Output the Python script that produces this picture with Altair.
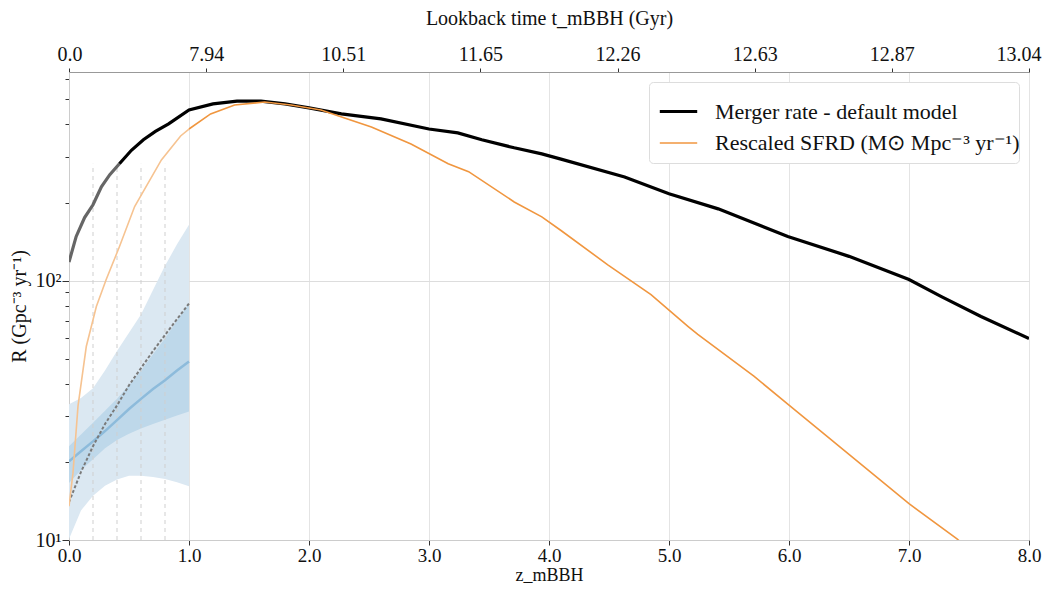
import json
import altair as alt
import pandas as pd

# ---------------- data ----------------
MERGER = "Merger rate - default model"
SFRD = "Rescaled SFRD (M⊙ Mpc⁻³ yr⁻¹)"

merger_z = [0.0, 0.06, 0.13, 0.2, 0.27, 0.34, 0.42, 0.52, 0.62, 0.72, 0.83, 1.0, 1.2, 1.4,
            1.6, 1.8, 2.0, 2.27, 2.6, 3.0, 3.24, 3.44, 3.71, 3.94, 4.1, 4.63, 5.0, 5.41,
            5.99, 6.5, 7.0, 7.27, 7.6, 8.0]
merger_R = [118, 148, 175, 196, 230, 256, 282, 318, 349, 376, 402, 455, 480, 492,
            492, 480, 463, 439, 420, 384, 371, 349, 325, 308, 294, 251, 216, 189,
            148, 124, 101, 86.8, 72.7, 59.8]
merger_split_z = 0.42   # the curve is drawn grey below this redshift

sfrd_z = [0.0, 0.033, 0.075, 0.144, 0.228, 0.31, 0.42, 0.547, 0.77, 0.93, 1.0, 1.18,
          1.38, 1.63, 1.85, 2.1, 2.29, 2.52, 2.85, 3.16, 3.33, 3.71, 3.94, 4.1, 4.49,
          4.85, 5.16, 5.24, 5.71, 6.0, 7.0, 7.4, 7.5]
sfrd_R = [13.5, 18.1, 32.8, 55.7, 79.4, 101, 135, 193, 292, 361, 384, 439,
          475, 488, 475, 455, 424, 391, 336, 282, 263, 201, 176, 156, 115,
          88.3, 66.5, 62.0, 42.7, 33.1, 13.8, 10.1, 9.2]
sfrd_split_z = 1.0      # the curve is drawn lighter below this redshift

band_z = [0.0, 0.1, 0.2, 0.3, 0.4, 0.5, 0.6, 0.7, 0.8, 0.9, 1.0]
outer_lo = [10.1, 13.0, 14.8, 16.2, 17.1, 17.7, 17.7, 17.5, 17.2, 16.7, 16.1]
outer_hi = [33.4, 35.3, 38.5, 45.0, 53.5, 63.0, 74.0, 92.0, 114, 138, 164]
inner_lo = [16.6, 18.6, 20.5, 22.6, 24.3, 25.7, 26.9, 28.0, 29.1, 30.2, 31.3]
inner_hi = [23.0, 25.5, 28.3, 31.5, 35.0, 39.5, 45.0, 52.0, 60.0, 70.0, 81.6]
median_R = [20.1, 22.0, 24.0, 26.3, 29.0, 32.0, 35.0, 38.2, 41.3, 45.0, 48.8]
alt_model_R = [14.0, 18.3, 23.0, 28.0, 33.0, 39.5, 46.0, 53.5, 61.7, 71.0, 81.6]

guide_z = [0.2, 0.4, 0.6, 0.8]
guide_lo = [10, 10, 10, 10]
guide_hi = [282, 282, 282, 282]

bottom_ticks = [0, 1, 2, 3, 4, 5, 6, 7, 8]
y_ticks = [10, 20, 30, 40, 50, 60, 70, 80, 90, 100, 200, 300, 400, 500, 600]
lookback_labels = ["0.0", "7.94", "10.51", "11.65", "12.26", "12.63", "12.87", "13.04"]
top_ticks = [i * 8 / 7 for i in range(len(lookback_labels))]

# ---------------- tables ----------------
merger_df = pd.DataFrame({"z": merger_z, "R": merger_R})
sfrd_df = pd.DataFrame({"z": sfrd_z, "R": sfrd_R})
main_df = pd.concat([
    merger_df[merger_df.z >= merger_split_z].assign(series=MERGER),
    sfrd_df[sfrd_df.z >= sfrd_split_z].assign(series=SFRD),
])
merger_low = merger_df[merger_df.z <= merger_split_z]
sfrd_low = sfrd_df[sfrd_df.z <= sfrd_split_z]
band_df = pd.DataFrame({"z": band_z, "olo": outer_lo, "ohi": outer_hi,
                        "ilo": inner_lo, "ihi": inner_hi, "R": median_R})
alt_df = pd.DataFrame({"z": band_z, "R": alt_model_R})
guide_df = pd.DataFrame({"z": guide_z, "R": guide_lo, "R2": guide_hi})

# ---------------- styling ----------------
SERIF = "Liberation Serif"
xs = alt.Scale(domain=[0, 8], nice=False, zero=False)
ys = alt.Scale(type="log", domain=[10, 637], nice=False)

x_axis = alt.Axis(orient="bottom", values=bottom_ticks, format=".1f", title="z_mBBH",
                  grid=True, gridColor="#e4e4e4", domainColor="#cccccc",
                  tickColor="#333333", tickSize=5, labelPadding=1, titlePadding=1,
                  labelFontSize=19, titleFontSize=18, labelFlush=False)
y_axis = alt.Axis(values=y_ticks, title="R (Gpc⁻³ yr⁻¹)",
                  labelExpr="datum.value == 10 ? '10¹' : (datum.value == 100 ? '10²' : '')",
                  grid=True, gridColor="#dddddd",
                  gridOpacity={"condition": {"test": "datum.value === 100", "value": 1}, "value": 0},
                  tickSize={"condition": {"test": "datum.value === 10 || datum.value === 100", "value": 7}, "value": 4},
                  tickColor="#333333", domainColor="#cccccc", labelPadding=1, titlePadding=6)
top_axis = alt.Axis(orient="top", values=top_ticks, title="Lookback time t_mBBH (Gyr)",
                    labelExpr=json.dumps(lookback_labels) + "[round(datum.value * 7 / 8)]",
                    grid=False, domainColor="#999999", tickColor="#333333", tickSize=4,
                    labelPadding=4, titlePadding=16, labelFlush=True, labelFlushOffset=12)

X = alt.X("z:Q", scale=xs, axis=x_axis)
Y = alt.Y("R:Q", scale=ys, axis=y_axis)

outer = alt.Chart(band_df).mark_area(color="#dbe8f2", clip=True).encode(
    x=X, y=alt.Y("olo:Q", scale=ys, axis=y_axis), y2="ohi:Q")
inner = alt.Chart(band_df).mark_area(color="#bed8ea", clip=True).encode(
    x=X, y=alt.Y("ilo:Q", scale=ys, axis=y_axis), y2="ihi:Q")
guides = alt.Chart(guide_df).mark_rule(color="#cfcfcf", strokeDash=[4, 4], strokeWidth=1).encode(
    x=X, y=Y, y2="R2:Q")
median = alt.Chart(band_df).mark_line(color="#8dbbdb", strokeWidth=2.5, clip=True).encode(x=X, y=Y)
alt_line = alt.Chart(alt_df).mark_line(color="#7a7a7a", strokeWidth=2, strokeDash=[3, 2], clip=True).encode(x=X, y=Y)
sfrd_light = alt.Chart(sfrd_low).mark_line(color="#f6c391", strokeWidth=1.6, clip=True).encode(x=X, y=Y)
merger_grey = alt.Chart(merger_low).mark_line(color="#666666", strokeWidth=3.2, clip=True).encode(x=X, y=Y)

legend = alt.Legend(title=None, orient="top-right", offset=10, fillColor="white",
                    strokeColor="#dddddd", cornerRadius=4, padding=9,
                    labelFont=SERIF, labelFontSize=22, labelColor="#111111",
                    symbolType="stroke", symbolSize=1400, rowPadding=0, labelOffset=16,
                    labelLimit=500)
lines = alt.Chart(main_df).mark_line(clip=True).encode(
    x=X, y=Y,
    color=alt.Color("series:N", scale=alt.Scale(domain=[MERGER, SFRD], range=["#000000", "#f0963f"]),
                    legend=legend),
    strokeWidth=alt.StrokeWidth("series:N", scale=alt.Scale(domain=[MERGER, SFRD], range=[3.2, 1.6]),
                                legend=legend),
)

main = alt.layer(outer, inner, guides, median, alt_line, sfrd_light, merger_grey, lines)

top = alt.Chart(merger_df).mark_point(opacity=0, size=1).encode(
    x=alt.X("z:Q", scale=xs, axis=top_axis), y=Y)

chart = (
    alt.layer(main, top)
    .resolve_scale(x="independent")
    .properties(width=1035, height=576,
                autosize=alt.AutoSizeParams(type="fit", contains="padding"),
                padding={"left": 1, "top": 0, "right": 2, "bottom": 0})
    .configure_view(stroke="#666666")
    .configure_axis(labelFont=SERIF, titleFont=SERIF, labelFontSize=20, titleFontSize=20,
                    titleFontWeight="normal", labelFontWeight="normal",
                    labelColor="#111111", titleColor="#111111")
)

chart.save("out.html", embed_options={"renderer": "svg", "actions": False})
